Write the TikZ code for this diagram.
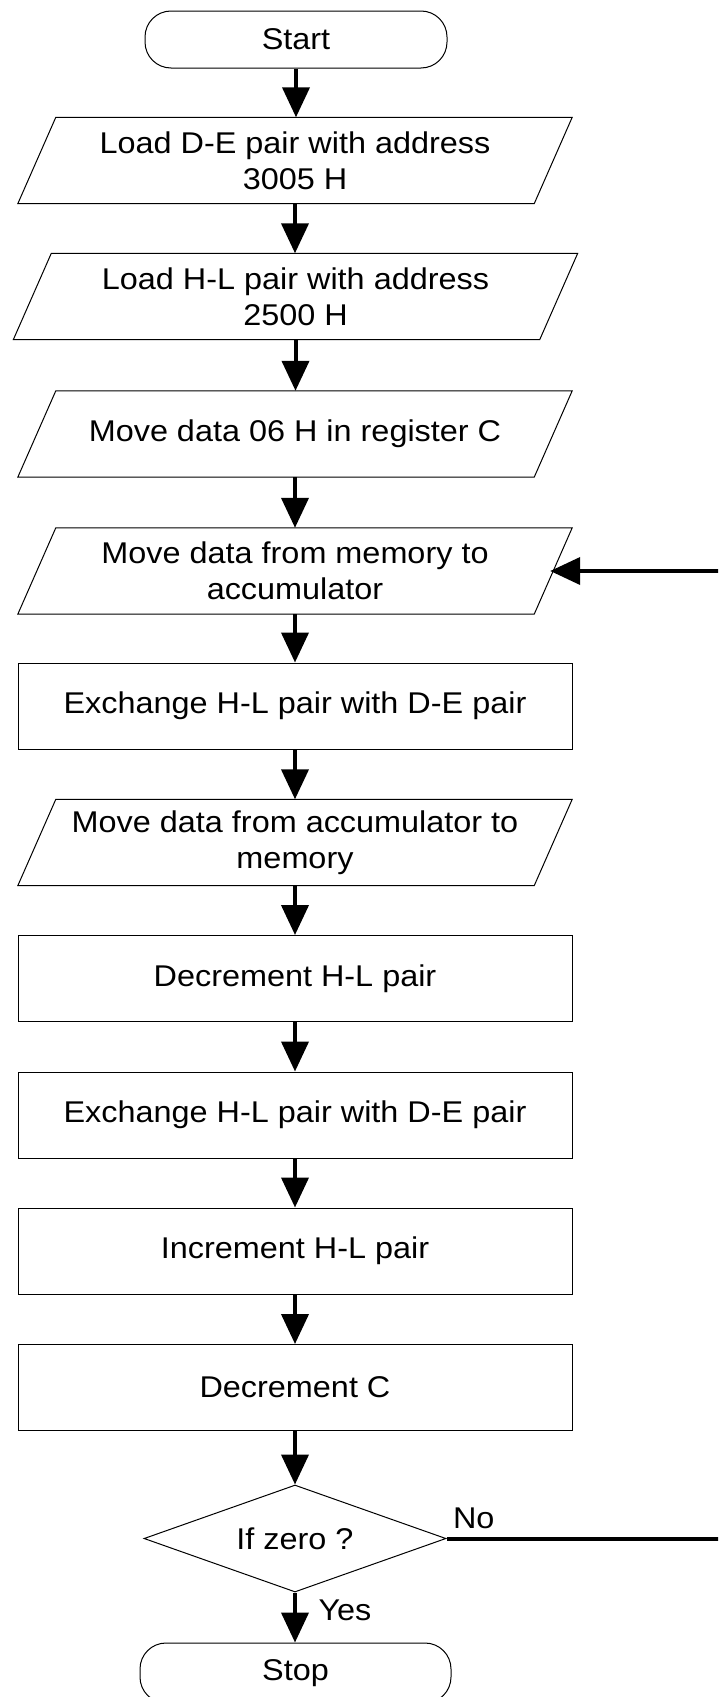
\documentclass[tikz,border=0pt]{standalone}
\usepackage{fontspec}
\setmainfont{Liberation Sans}[FakeStretch=1.08]
\usepackage{tikz}
\usetikzlibrary{shapes.geometric,arrows.meta}

\tikzset{
  io/.style={rectangle, minimum width=516pt, minimum height=86pt, align=center,
    append after command={\pgfextra{\draw[black, line width=1pt]
      ([xshift=-19pt]\tikzlastnode.south west) -- ([xshift=19pt]\tikzlastnode.north west)
      -- ([xshift=19pt]\tikzlastnode.north east) -- ([xshift=-19pt]\tikzlastnode.south east) -- cycle;}}},
  process/.style={rectangle, draw=black, line width=1pt,
    minimum width=554pt, minimum height=86pt, align=center},
  terminal/.style={rectangle, rounded corners=26pt, draw=black, line width=1pt,
    minimum width=302pt, minimum height=57pt},
  decision/.style={diamond, draw=black, line width=1pt, shape aspect=2.8,
    minimum width=302pt, minimum height=107pt, inner sep=0pt},
  flow/.style={line width=4pt, -{Triangle[width=27pt,length=30pt]}},
}

\begin{document}
\begin{tikzpicture}[x=1pt,y=-1pt,font=\fontsize{30}{36}\selectfont]
\path[use as bounding box, clip] (0,0) rectangle (718,1697);
\fill[white] (0,0) rectangle (718,1697);

\node[terminal] (start) at (296,39.5) {Start};
\node[io] (p1) at (295,160.5) {Load D-E pair with address\\3005 H};
\node[io, minimum width=526pt] (p2) at (295.5,296.5) {Load H-L pair with address\\2500 H};
\node[io] (p3) at (295,434) {Move data 06 H in register C};
\node[io] (p4) at (295,571) {Move data from memory to\\accumulator};
\node[process] (r1) at (295,706) {Exchange H-L pair with D-E pair};
\node[io] (p5) at (295,842.5) {Move data from accumulator to\\memory};
\node[process] (r2) at (295,978.5) {Decrement H-L pair};
\node[process] (r3) at (295,1115) {Exchange H-L pair with D-E pair};
\node[process] (r4) at (295,1251) {Increment H-L pair};
\node[process] (r5) at (295,1387.5) {Decrement C};
\node[decision] (dec) at (295,1538.5) {If zero ?};
\node[terminal, minimum width=311pt, minimum height=60pt] (stop) at (295.5,1673) {Stop};

% main flow
\foreach \a/\b in {start/p1,p1/p2,p2/p3,p3/p4,p4/r1,r1/p5,p5/r2,r2/r3,r3/r4,r4/r5,r5/dec,dec/stop}
  \draw[flow] (\a.south) -- (\a.south |- \b.north);

% loop back
\draw[flow] (dec.east) -- ++(290,0) |- ([xshift=-3pt]p4.east);
\node[anchor=base west] (no) at ([xshift=3pt,yshift=10pt]dec.east) {No};
\node[anchor=base west] (yes) at ([xshift=20pt,yshift=-28pt]dec.south) {Yes};
\end{tikzpicture}
\end{document}
